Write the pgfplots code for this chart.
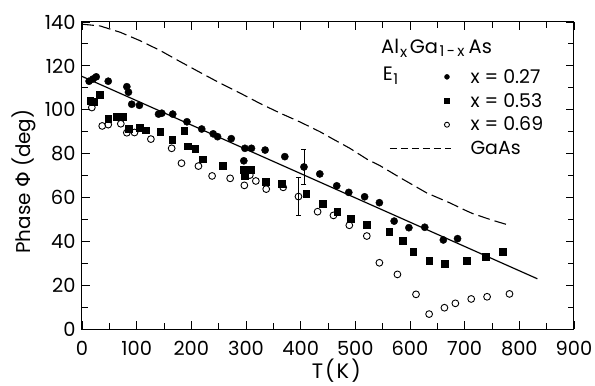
\documentclass[border=0pt]{standalone}
\usepackage{fontspec}
\setmainfont{Poppins}
\newfontfamily\dv{DejaVu Sans}
\usepackage{pgfplots}
\pgfplotsset{compat=1.18}
\newcommand\subt[2]{\raisebox{#1}{\fontsize{15}{16}\selectfont #2}}
\begin{document}
\begin{tikzpicture}[font=\fontsize{19.5}{22}\selectfont]
\begin{axis}[
 scale only axis, width=492bp, height=307bp,
 xmin=0,xmax=900,ymin=0,ymax=140,
 xtick={0,100,...,900}, minor xtick={50,150,...,850},
 ytick={0,20,...,140}, minor ytick={10,30,...,130},
 major tick length=8bp, minor tick length=6bp,
 tick style={black, line width=0.9bp},
 axis line style={line width=1bp},
 xlabel={T\hspace{2bp}(\hspace{2bp}K\hspace{2bp})}, ylabel={Phase {\dv Φ} (deg)},
 xlabel style={font=\fontsize{21}{24}\selectfont, at={(axis description cs:0.517,-0.162)}, anchor=base},
 ylabel style={font=\fontsize{20}{24}\selectfont, at={(axis description cs:-0.087,0.48)}, anchor=south},
 xticklabel style={anchor=base, yshift=-26.7bp},
 yticklabel style={xshift=-3bp},
 /pgf/number format/assume math mode=true,
 legend style={draw=none, fill=none, at={(axis cs:562,119.5)}, anchor=north west,
   row sep=4.5bp, column sep=17bp, inner sep=0pt, cells={anchor=west},
   font=\fontsize{19}{22}\selectfont},
 legend image post style={mark size=2.5bp},
 clip=false,
]
% solid fit line
\addplot[black, line width=1.2bp, forget plot] coordinates {(0,115.2) (833,22.9)};
% GaAs dashed
\addplot[black, line width=1.1bp, dash pattern=on 12bp off 5bp, forget plot] coordinates {
(0,139) (33,138.2) (70,135.3) (106,131.5) (143,127) (179,122) (216,117) (252,112.2)
(289,107.6) (326,102.8) (362,98.5) (399,94.4) (435,90) (460,86.5) (490,82.4) (521,77.5)
(545,74.5) (582,69) (631,62) (673,57.5) (704,53.8) (716,52.5) (752,49.5) (779,47.5)};
% x = 0.27
\addplot[only marks, mark=*, mark size=3.6bp, black] coordinates {
(13,113) (20,114) (26,115) (48,113) (82,110.5) (85,108) (91,102.5) (105,102)
(140,98) (146,98.4) (166,98) (192,94.5) (219,91.2) (240,89) (248,87.7) (273,86.8)
(298,82.4) (310,82.4) (335,81.6) (296,76.7) (371,78.6) (435,70.7) (466,65.3)
(488,62.3) (517,60.3) (544,57.6) (571,49.2) (598,46.2) (627,46.4) (661,40.6) (687,41.2)};
\addlegendentry{x = 0.27}
% x = 0.53
\addplot[only marks, mark=square*, mark size=3.4bp, black] coordinates {
(15,104) (21,103.5) (33,106.7) (48,96) (63,96.8) (75,96.8) (85,91.5) (105,91.8)
(117,90.7) (143,90) (165,86.2) (187,90.4) (193,83.4) (207,82.4) (221,77.4) (257,74.3)
(296,72.5) (309,72.8) (297,69.9) (336,67.2) (365,66.4) (410,61.6) (440,57) (467,53.5)
(492,50.3) (521,47.6) (562,44.2) (586,40.3) (606,35.3) (635,31) (664,29.8) (703,31.3)
(738,33) (769,35.1)};
\addlegendentry{x = 0.53}
% x = 0.69
\addplot[only marks, mark=o, mark size=3.4bp, black, line width=0.9bp] coordinates {
(18,101) (37,92.6) (48,93.2) (71,93.6) (82,89.5) (96,89.6) (126,86.6) (164,82.4)
(182,75.6) (213,74.3) (238,69.8) (271,68.7) (307,70.2) (297,65.5) (318,67.5) (337,63.8)
(368,64.6) (431,53.5) (460,51.8) (489,47.3) (521,42.4) (544,30.2) (577,24.9) (611,15.8)
(635,6.8) (663,9.7) (683,11.7) (712,13.7) (741,14.7) (782,16)};
\addlegendentry{x = 0.69}
\addlegendimage{legend image code/.code={\draw[black, line width=1.1bp, dash pattern=on 7bp off 4bp] ([xshift=-57bp]0.3cm,0cm) -- ([xshift=4bp]0.3cm,0cm);}}
\addlegendentry{GaAs}
% error bar points
\addplot[only marks, mark=*, mark size=3.6bp, black, forget plot,
  error bars/.cd, y dir=both, y explicit, error bar style={line width=0.8bp},
  error mark options={rotate=90, mark size=2.5bp, line width=0.8bp}] coordinates {(406,73.9) +- (0,7.9)};
\addplot[only marks, mark=o, mark size=3.4bp, black, line width=0.9bp, forget plot,
  error bars/.cd, y dir=both, y explicit, error bar style={line width=0.8bp},
  error mark options={rotate=90, mark size=2.5bp, line width=0.8bp}] coordinates {(396,60.4) +- (0,8.8)};
\node[anchor=base west, inner sep=0pt] at (axis cs:547,125.7)
  {Al\hspace{1bp}\subt{-4bp}{x}\hspace{2.5bp}Ga\hspace{1.5bp}\subt{-3.5bp}{1\,-\,x}\hspace{4bp}As};
\node[anchor=base west, inner sep=0pt] at (axis cs:550,113.1) {E\hspace{0.5bp}\subt{-3.5bp}{1}};
\coordinate (SW) at (rel axis cs:0,0);
\end{axis}
\pgfresetboundingbox
\path[use as bounding box] (SW) ++(-82bp,-57bp) rectangle ++(595bp,386bp);
\end{tikzpicture}
\end{document}
